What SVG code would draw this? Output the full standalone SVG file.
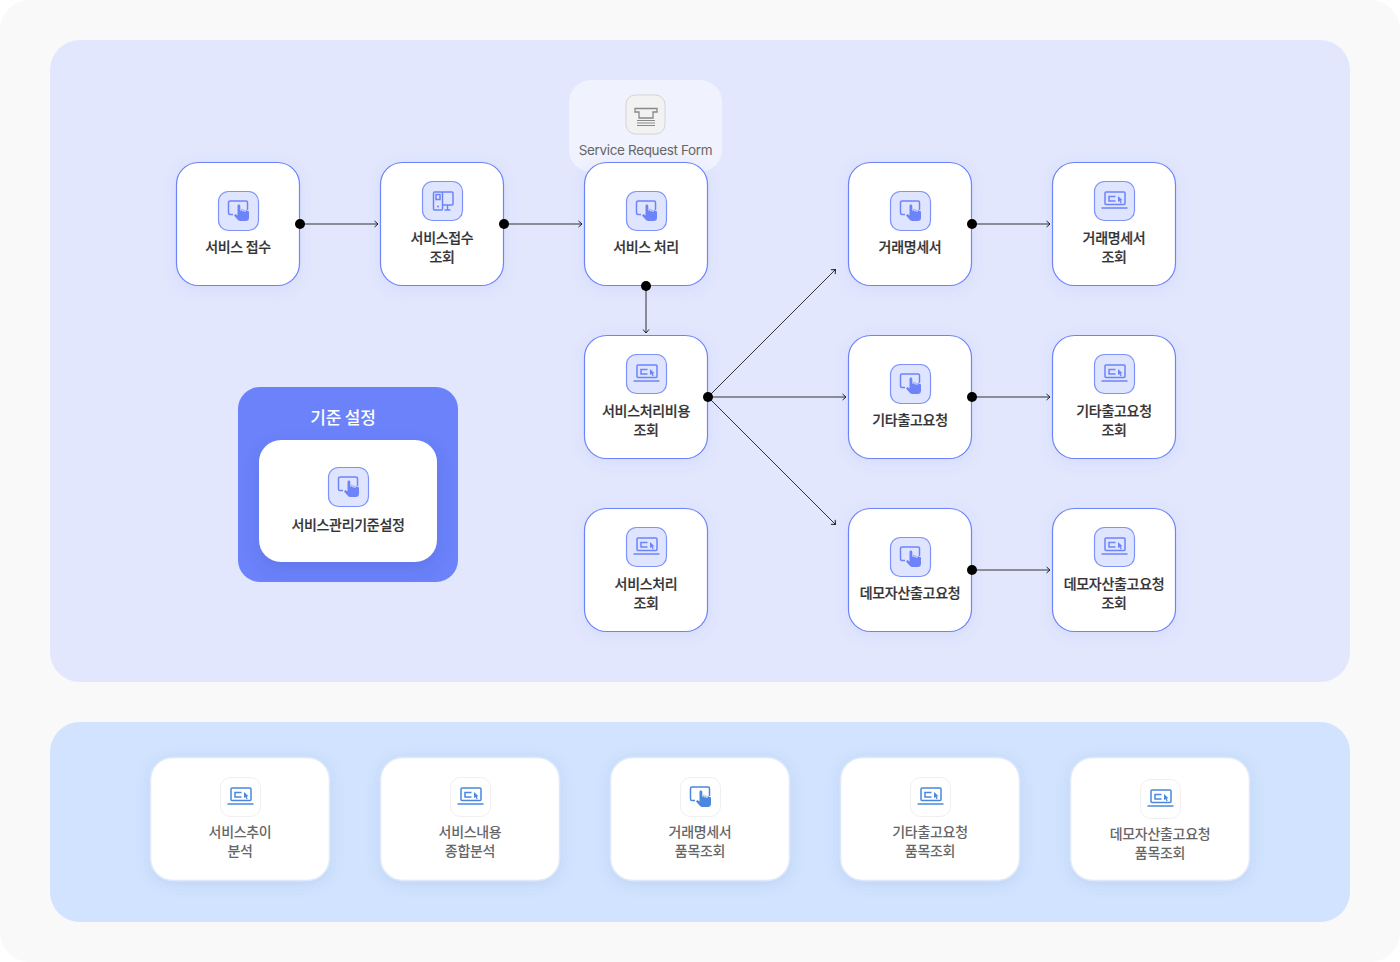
<svg xmlns="http://www.w3.org/2000/svg" width="1400" height="962" viewBox="0 0 1400 962">
<style>
text{font-family:"Noto Sans CJK KR","Noto Sans",sans-serif;text-anchor:middle}
.n{fill:#fff;stroke:#6d83fa;stroke-width:1.2;filter:url(#sh)}
.c{fill:#fff;stroke:#dde8fa;stroke-width:1.500;filter:url(#sh2)}
.t{font-size:14px;font-weight:500;fill:#333;stroke:#333;stroke-width:.2;letter-spacing:-.3px}
.b{font-size:14px;font-weight:500;fill:#666;letter-spacing:-.3px;transform:translateY(-1px)}
.tile{fill:#dfe5fe;stroke:#7d92fb;stroke-width:1.2}
.tile2{fill:#fff;stroke:#efefef;stroke-width:1}
.l{fill:none;stroke:#333;stroke-width:1;marker-end:url(#a)}
.d{fill:#000}
.ic{fill:none;stroke:currentColor;stroke-width:1.5}
.if{fill:currentColor}
.blue{color:#6d83fa}
.sky{color:#4a88e0}
</style>
<defs>
<filter id="sh" x="-25%" y="-25%" width="150%" height="150%"><feDropShadow dx="0" dy="3" stdDeviation="7" flood-color="#5a6ad0" flood-opacity=".1"/></filter>
<filter id="sh2" x="-25%" y="-25%" width="150%" height="150%"><feDropShadow dx="0" dy="3" stdDeviation="7" flood-color="#4a70c0" flood-opacity=".14"/></filter>
<filter id="sh3" x="-25%" y="-25%" width="150%" height="150%"><feDropShadow dx="0" dy="6" stdDeviation="8" flood-color="#3a4ab0" flood-opacity=".22"/></filter>
<marker id="a" markerWidth="8" markerHeight="8" refX="6" refY="4" orient="auto" markerUnits="userSpaceOnUse"><path d="M2.500 1L6 4L2.500 7" fill="none" stroke="#222" stroke-width="1"/></marker>
<symbol id="touch" viewBox="0 0 40 40" width="40" height="40" overflow="visible">
<path class="ic" d="M14.500 23.500H11.500a1.500 1.500 0 0 1-1.500-1.500V11.500a1.500 1.500 0 0 1 1.500-1.500H27.500a1.500 1.500 0 0 1 1.500 1.500V19"/>
<path class="if" d="M19 15a1.400 1.400 0 0 1 2.800 0V19.500l1.200.6V17.800h.8V20.300l1.200.3V18.500h.8V20.800l1.200.2V19.300h.8L30.500 20.500V26.500a3.500 3.500 0 0 1-3.500 3.500H21.800a3 3 0 0 1-2.300-1.100L15.500 24.500l1.500-1.500 2 1.500z"/>
</symbol>
<symbol id="laptop" viewBox="0 0 40 40" width="40" height="40" overflow="visible">
<rect class="ic" x="10.500" y="11" width="20" height="12.500" rx="1"/>
<path class="ic" d="M7 27H33"/>
<path class="ic" d="M21 15.500H14.500V20H21"/>
<path class="if" d="M23.500 15L28 19.200L26.200 19.500L27.200 21.700L26 22.200L25 20L23.500 21z"/>
</symbol>
<symbol id="device" viewBox="0 0 40 40" width="40" height="40" overflow="visible">
<rect class="ic" x="11" y="11" width="9" height="18" rx="1"/>
<rect class="ic" x="13.500" y="13.500" width="4" height="5" stroke-width="1"/>
<circle class="if" cx="15.500" cy="25.500" r="1"/>
<path class="ic" d="M20 11H29.500a1 1 0 0 1 1 1V23a1 1 0 0 1-1 1H20M25 24V29M22 29H28"/>
</symbol>
</defs>

<rect width="1400" height="962" rx="30" fill="#f9f9f9"/>
<rect x="50" y="40" width="1300" height="642" rx="30" fill="#e2e7fe"/>
<rect x="50" y="722" width="1300" height="200" rx="30" fill="#d1e3fe"/>

<g id="form">
<rect x="569" y="80" width="153" height="92" rx="22" fill="#f0f2fe"/>
<rect x="626" y="95" width="39" height="39" rx="9.500" fill="#f2f2f2" stroke="#d4d4d4"/>
<path d="M635 108.500H657V112H653V118H639V112H635z" fill="none" stroke="#888" stroke-width="1.300"/>
<path d="M637 120.500H655M637 123H655M637 125.500H655" stroke="#888" stroke-width="1.200" fill="none"/>
<text x="645.500" y="155" font-size="13.500" fill="#666" letter-spacing="-.35" style="font-family:Inter,'Noto Sans',sans-serif">Service Request Form</text>
</g>

<g id="n1" class="blue"><rect class="n" x="176.500" y="162.500" width="123" height="123" rx="22"/><rect class="tile" x="218.500" y="191.500" width="40" height="39" rx="10"/><use href="#touch" x="218.500" y="191"/><text class="t" x="238" y="252">서비스 접수</text></g>
<g id="n2" class="blue"><rect class="n" x="380.500" y="162.500" width="123" height="123" rx="22"/><rect class="tile" x="422.500" y="181.500" width="40" height="39" rx="10"/><use href="#device" x="422.500" y="181"/><text class="t" x="442" y="243">서비스접수</text><text class="t" x="442" y="262">조회</text></g>
<g id="n3" class="blue"><rect class="n" x="584.500" y="162.500" width="123" height="123" rx="22"/><rect class="tile" x="626.500" y="191.500" width="40" height="39" rx="10"/><use href="#touch" x="626.500" y="191"/><text class="t" x="646" y="252">서비스 처리</text></g>
<g id="n4" class="blue"><rect class="n" x="848.500" y="162.500" width="123" height="123" rx="22"/><rect class="tile" x="890.500" y="191.500" width="40" height="39" rx="10"/><use href="#touch" x="890.500" y="191"/><text class="t" x="910" y="252">거래명세서</text></g>
<g id="n5" class="blue"><rect class="n" x="1052.500" y="162.500" width="123" height="123" rx="22"/><rect class="tile" x="1094.500" y="181.500" width="40" height="39" rx="10"/><use href="#laptop" x="1094.500" y="181"/><text class="t" x="1114" y="243">거래명세서</text><text class="t" x="1114" y="262">조회</text></g>
<g id="n6" class="blue"><rect class="n" x="584.500" y="335.500" width="123" height="123" rx="22"/><rect class="tile" x="626.500" y="354.500" width="40" height="39" rx="10"/><use href="#laptop" x="626.500" y="354"/><text class="t" x="646" y="416">서비스처리비용</text><text class="t" x="646" y="435">조회</text></g>
<g id="n7" class="blue"><rect class="n" x="848.500" y="335.500" width="123" height="123" rx="22"/><rect class="tile" x="890.500" y="364.500" width="40" height="39" rx="10"/><use href="#touch" x="890.500" y="364"/><text class="t" x="910" y="425">기타출고요청</text></g>
<g id="n8" class="blue"><rect class="n" x="1052.500" y="335.500" width="123" height="123" rx="22"/><rect class="tile" x="1094.500" y="354.500" width="40" height="39" rx="10"/><use href="#laptop" x="1094.500" y="354"/><text class="t" x="1114" y="416">기타출고요청</text><text class="t" x="1114" y="435">조회</text></g>
<g id="n9" class="blue"><rect class="n" x="584.500" y="508.500" width="123" height="123" rx="22"/><rect class="tile" x="626.500" y="527.500" width="40" height="39" rx="10"/><use href="#laptop" x="626.500" y="527"/><text class="t" x="646" y="589">서비스처리</text><text class="t" x="646" y="608">조회</text></g>
<g id="n10" class="blue"><rect class="n" x="848.500" y="508.500" width="123" height="123" rx="22"/><rect class="tile" x="890.500" y="537.500" width="40" height="39" rx="10"/><use href="#touch" x="890.500" y="537"/><text class="t" x="910" y="598">데모자산출고요청</text></g>
<g id="n11" class="blue"><rect class="n" x="1052.500" y="508.500" width="123" height="123" rx="22"/><rect class="tile" x="1094.500" y="527.500" width="40" height="39" rx="10"/><use href="#laptop" x="1094.500" y="527"/><text class="t" x="1114" y="589">데모자산출고요청</text><text class="t" x="1114" y="608">조회</text></g>

<g id="settings" class="blue">
<rect x="238" y="387" width="220" height="195" rx="22" fill="#6b82fa"/>
<text x="343" y="424" font-size="17" font-weight="500" fill="#fff" style="letter-spacing:-.2px">기준 설정</text>
<rect x="259" y="440" width="178" height="122" rx="22" fill="#fff" filter="url(#sh3)"/>
<rect class="tile" x="328.500" y="467.500" width="40" height="39" rx="10"/><use href="#touch" x="328.500" y="467"/>
<text class="t" x="348" y="530">서비스관리기준설정</text>
</g>

<g id="b1" class="sky"><rect class="c" x="150.500" y="757.500" width="179" height="123" rx="22"/><rect class="tile2" x="220.500" y="777.500" width="40" height="39" rx="10"/><use href="#laptop" x="220.500" y="777"/><text class="b" x="240" y="838">서비스추이</text><text class="b" x="240" y="857">분석</text></g>
<g id="b2" class="sky"><rect class="c" x="380.500" y="757.500" width="179" height="123" rx="22"/><rect class="tile2" x="450.500" y="777.500" width="40" height="39" rx="10"/><use href="#laptop" x="450.500" y="777"/><text class="b" x="470" y="838">서비스내용</text><text class="b" x="470" y="857">종합분석</text></g>
<g id="b3" class="sky"><rect class="c" x="610.500" y="757.500" width="179" height="123" rx="22"/><rect class="tile2" x="680.500" y="777.500" width="40" height="39" rx="10"/><use href="#touch" x="680.500" y="777"/><text class="b" x="700" y="838">거래명세서</text><text class="b" x="700" y="857">품목조회</text></g>
<g id="b4" class="sky"><rect class="c" x="840.500" y="757.500" width="179" height="123" rx="22"/><rect class="tile2" x="910.500" y="777.500" width="40" height="39" rx="10"/><use href="#laptop" x="910.500" y="777"/><text class="b" x="930" y="838">기타출고요청</text><text class="b" x="930" y="857">품목조회</text></g>
<g id="b5" class="sky"><rect class="c" x="1070.500" y="757.500" width="179" height="123" rx="22"/><rect class="tile2" x="1140.500" y="779.500" width="40" height="39" rx="10"/><use href="#laptop" x="1140.500" y="779"/><text class="b" x="1160" y="840">데모자산출고요청</text><text class="b" x="1160" y="859">품목조회</text></g>

<g id="connectors">
<path class="l" d="M300 224H378"/>
<path class="l" d="M504 224H582"/>
<path class="l" d="M646 286V333"/>
<path class="l" d="M972 224H1050"/>
<path class="l" d="M972 397H1050"/>
<path class="l" d="M972 570H1050"/>
<path class="l" d="M708 397H846"/>
<path class="l" d="M708 397L835.500 269.500"/>
<path class="l" d="M708 397L835.500 524.500"/>
<circle class="d" cx="300" cy="224" r="5"/>
<circle class="d" cx="504" cy="224" r="5"/>
<circle class="d" cx="646" cy="286" r="5"/>
<circle class="d" cx="708" cy="397" r="5"/>
<circle class="d" cx="972" cy="224" r="5"/>
<circle class="d" cx="972" cy="397" r="5"/>
<circle class="d" cx="972" cy="570" r="5"/>
</g>
</svg>
